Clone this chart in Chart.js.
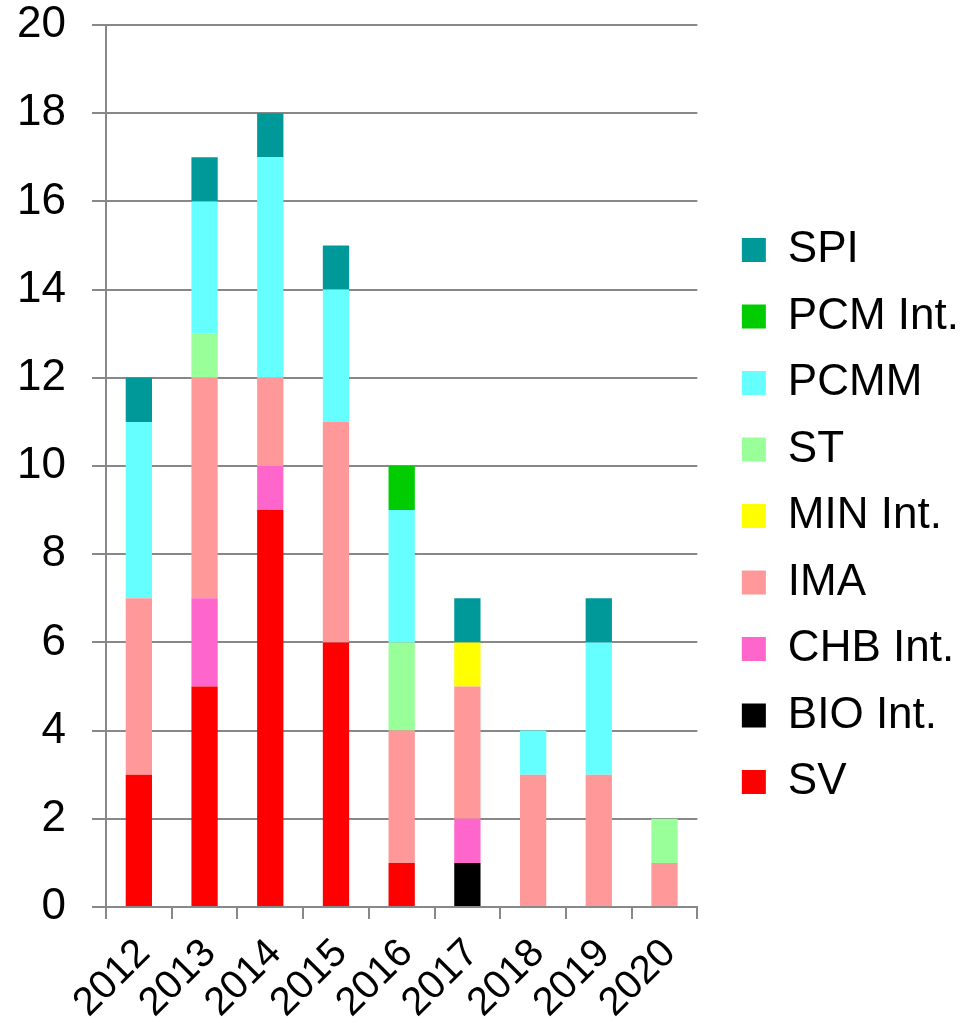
<!DOCTYPE html>
<html>
<head>
<meta charset="utf-8">
<script src="https://cdn.jsdelivr.net/npm/chart.js@4"></script>
<style>
  body { margin: 0; background: #fff; }
  #wrap { width: 969px; height: 1023px; position: relative; }
</style>
</head>
<body>
<div id="wrap"><canvas id="chart"></canvas></div>
<script>
// Years on the x axis
const years = ['2012', '2013', '2014', '2015', '2016', '2017', '2018', '2019', '2020'];

// Series values, bottom of the stack first
const sv     = [3, 5, 9, 6, 1, 0, 0, 0, 0];
const bioInt = [0, 0, 0, 0, 0, 1, 0, 0, 0];
const chbInt = [0, 2, 1, 0, 0, 1, 0, 0, 0];
const ima    = [4, 5, 2, 5, 3, 3, 3, 3, 1];
const minInt = [0, 0, 0, 0, 0, 1, 0, 0, 0];
const st     = [0, 1, 0, 0, 2, 0, 0, 0, 1];
const pcmm   = [4, 3, 5, 3, 3, 0, 1, 3, 0];
const pcmInt = [0, 0, 0, 0, 1, 0, 0, 0, 0];
const spi    = [1, 1, 1, 1, 0, 1, 0, 1, 0];

const seriesNames = ['SV', 'BIO Int.', 'CHB Int.', 'IMA', 'MIN Int.', 'ST', 'PCMM', 'PCM Int.', 'SPI'];
const seriesData = [sv, bioInt, chbInt, ima, minInt, st, pcmm, pcmInt, spi];
const seriesColors = ['#ff0000', '#000000', '#ff66cc', '#ff9999', '#ffff00', '#99ff99', '#66ffff', '#00cc00', '#009999'];

const yTicks = [0, 2, 4, 6, 8, 10, 12, 14, 16, 18, 20];

const FONT = "'Liberation Sans', Arial, sans-serif";
const GRID = '#888888';

// nudge the legend to the right, the plot area stays where it is
const legendShift = {
    id: 'legendShift',
    afterLayout(chart) {
        chart.legend.left += 22;
        chart.legend.right += 22;
    }
};

const datasets = seriesNames.map((name, i) => ({
    label: name,
    data: seriesData[i],
    backgroundColor: seriesColors[i],
    borderWidth: 0,
    barPercentage: 0.4,
    categoryPercentage: 1.0
}));

new Chart(document.getElementById('chart'), {
    type: 'bar',
    data: { labels: years, datasets: datasets },
    options: {
        responsive: true,
        maintainAspectRatio: false,
        animation: false,
        layout: { padding: { left: 17, right: 22, top: 9, bottom: 0 } },
        plugins: {
            tooltip: { enabled: false },
            legend: {
                position: 'right',
                reverse: true,
                maxWidth: 320,
                labels: {
                    boxWidth: 24,
                    boxHeight: 24,
                    padding: 22.5,
                    color: '#000',
                    font: { family: FONT, size: 44 }
                }
            }
        },
        scales: {
            x: {
                stacked: true,
                afterFit(axis) {
                    axis.height = 116;
                    axis.paddingLeft = 0;
                    axis.paddingRight = 0;
                },
                grid: {
                    display: true,
                    drawOnChartArea: false,
                    drawTicks: true,
                    tickLength: 12,
                    color: GRID,
                    lineWidth: 2,
                    offset: true
                },
                border: { display: true, color: GRID, width: 2 },
                ticks: {
                    color: '#000',
                    font: { family: FONT, size: 40 },
                    maxRotation: 45,
                    minRotation: 45,
                    padding: 11,
                    labelOffset: 5,
                    autoSkip: false
                }
            },
            y: {
                stacked: true,
                min: 0,
                max: 20,
                afterBuildTicks(axis) {
                    axis.ticks = yTicks.map(v => ({ value: v }));
                },
                afterFit(axis) {
                    axis.width = 89;
                    axis.paddingTop = 25;
                    axis.paddingBottom = 0;
                },
                grid: {
                    color: GRID,
                    lineWidth: 2,
                    tickLength: 14
                },
                border: { display: true, color: GRID, width: 2 },
                ticks: {
                    color: '#000',
                    font: { family: FONT, size: 44 },
                    padding: 26
                }
            }
        }
    },
    plugins: [legendShift]
});
</script>
</body>
</html>
